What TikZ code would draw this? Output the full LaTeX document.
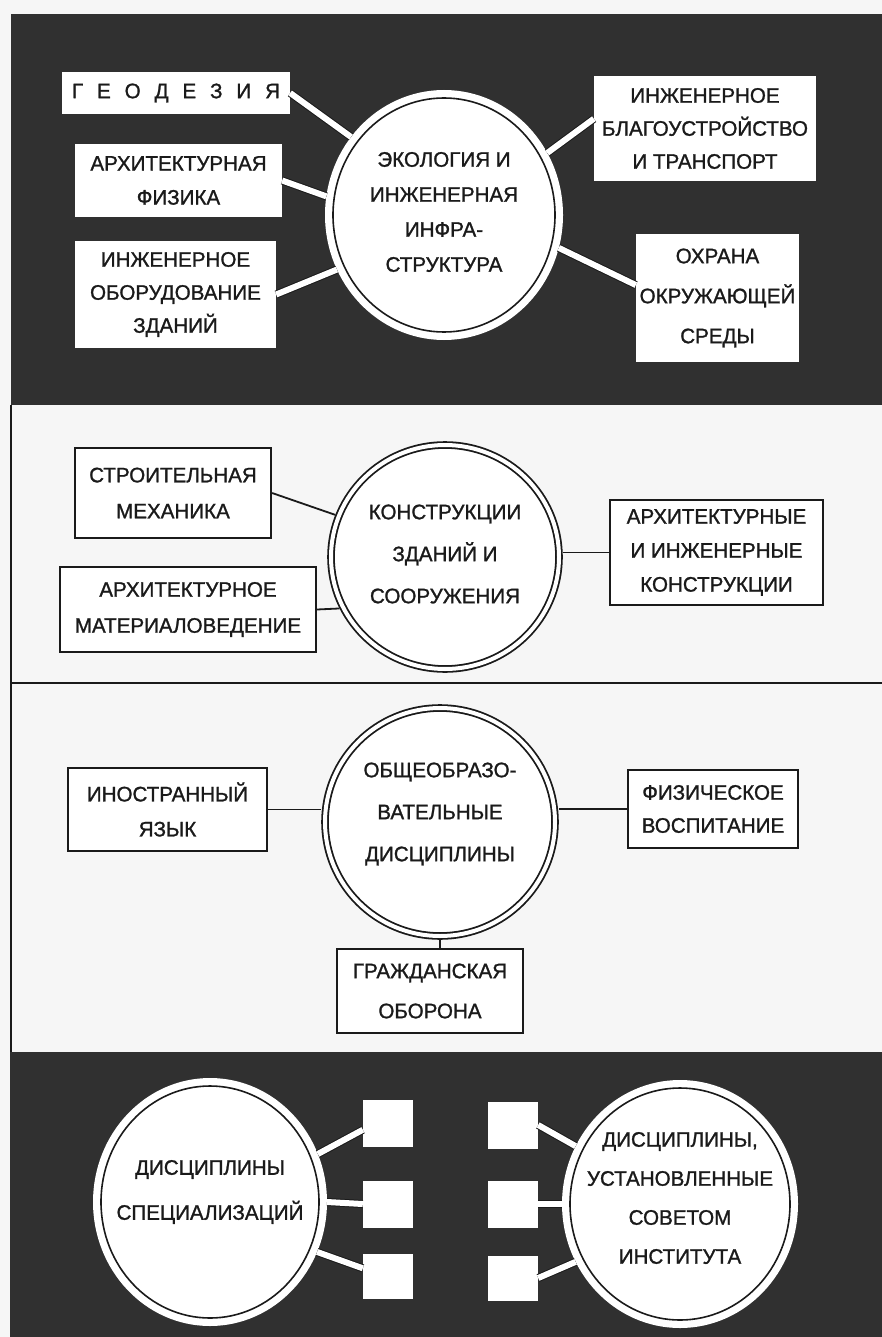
\documentclass[tikz,border=0pt]{standalone}
\usepackage{fontspec}
\setmainfont{Liberation Sans}[FakeStretch=0.98,FakeBold=1.2]
\usetikzlibrary{calc,shapes.geometric}
\definecolor{panel}{HTML}{303030}
\definecolor{ink}{HTML}{1A1A1A}
\definecolor{paper}{HTML}{F6F6F6}
\begin{document}
\begin{tikzpicture}[x=1pt,y=-1pt,
  fs/.style={font=\fontsize{21}{#1}\selectfont, text=ink, align=center, inner sep=0pt},
  fs/.default=34,
  wbox/.style={rectangle, fill=white, inner sep=0pt},
  obox/.style={rectangle, fill=white, draw=ink, line width=2.2pt, inner sep=0pt},
  wring/.style={ellipse, fill=white, draw=ink, line width=1.6pt, inner sep=0pt,
                preaction={draw=white, line width=16pt}, outer sep=8pt},
  dring/.style={ellipse, fill=white, draw=ink, line width=1.8pt, double=white,
                double distance=4pt, inner sep=0pt, outer sep=3.8pt},
  bar/.style={draw=ink, line width=1pt, double=white, double distance=6pt},
  link/.style={draw=ink, line width=1.8pt}
]
\useasboundingbox (0,0) rectangle (882,1337);
\fill[paper] (0,0) rectangle (882,1337);
% panels
\fill[panel] (11,14) rectangle (882,405);
\fill[panel] (10,1052) rectangle (882,1337);
\draw[ink, line width=2.5pt] (11,405) -- (11,1052);
\draw[ink, line width=2.5pt] (11,683) -- (882,683);

% ---------- panel 1 ----------
\node[wbox, fs, minimum width=228pt, minimum height=42pt] (geo) at (176,93)
  {\makebox[208pt]{Г\hfill Е\hfill О\hfill Д\hfill Е\hfill З\hfill И\hfill Я}};
\node[wbox, fs=34, minimum width=207pt, minimum height=73pt] (fiz) at (178.5,180.5)
  {АРХИТЕКТУРНАЯ\\ФИЗИКА};
\node[wbox, fs=33, minimum width=201pt, minimum height=107pt] (obor) at (175.5,294.5)
  {ИНЖЕНЕРНОЕ\\ОБОРУДОВАНИЕ\\ЗДАНИЙ};
\node[wbox, fs=33, minimum width=222pt, minimum height=105pt] (blag) at (705,128.5)
  {ИНЖЕНЕРНОЕ\\БЛАГОУСТРОЙСТВО\\И ТРАНСПОРТ};
\node[wbox, fs=40, minimum width=163pt, minimum height=128pt] (ohr) at (717.5,298)
  {ОХРАНА\\ОКРУЖАЮЩЕЙ\\СРЕДЫ};
\node[wring, minimum width=222pt, minimum height=234pt] (c1) at (444,215) {};
\node[fs=35] (c1t) at ([yshift=3pt]c1.center)
  {ЭКОЛОГИЯ И\\ИНЖЕНЕРНАЯ\\ИНФРА-\\СТРУКТУРА};
\draw[bar] (geo.east) -- (c1.140);
\draw[bar] (fiz.east) -- (c1.171);
\draw[bar] (obor.east) -- (c1.207);
\draw[bar] (c1.31) -- (blag.175);
\draw[bar] (c1.344) -- (ohr.171);

% ---------- panel 2 ----------
\node[obox, fs=36, minimum width=196pt, minimum height=90pt] (mech) at (173,493)
  {СТРОИТЕЛЬНАЯ\\МЕХАНИКА};
\node[obox, fs=36, minimum width=256pt, minimum height=85pt] (mat) at (188,609.5)
  {АРХИТЕКТУРНОЕ\\МАТЕРИАЛОВЕДЕНИЕ};
\node[obox, fs=34, minimum width=213pt, minimum height=105pt] (kon) at (716.5,552.5)
  {АРХИТЕКТУРНЫЕ\\И ИНЖЕНЕРНЫЕ\\КОНСТРУКЦИИ};
\node[dring, minimum width=228pt, minimum height=224pt] (c2) at (445,557) {};
\node[fs=42] (c2t) at ([yshift=3pt]c2.center)
  {КОНСТРУКЦИИ\\ЗДАНИЙ И\\СООРУЖЕНИЯ};
\draw[link] (mech.east) -- (c2.159);
\draw[link] (mat.east) -- (c2.206);
\draw[link] (kon.west) -- (kon.west -| c2.east);

% ---------- panel 3 ----------
\node[obox, fs=35, minimum width=199pt, minimum height=83pt] (ino) at (167.5,809.5)
  {ИНОСТРАННЫЙ\\ЯЗЫК};
\node[obox, fs=33, minimum width=170pt, minimum height=78pt] (phys) at (713,809)
  {ФИЗИЧЕСКОЕ\\ВОСПИТАНИЕ};
\node[obox, fs=40, minimum width=186pt, minimum height=84pt] (grazh) at (430,991)
  {ГРАЖДАНСКАЯ\\ОБОРОНА};
\node[dring, minimum width=230pt, minimum height=228pt] (c3) at (440,822) {};
\node[fs=42] (c3t) at ([yshift=8pt]c3.center)
  {ОБЩЕОБРАЗО-\\ВАТЕЛЬНЫЕ\\ДИСЦИПЛИНЫ};
\draw[link] (ino.east) -- (ino.east -| c3.west);
\draw[link] (phys.west) -- (phys.west -| c3.east);
\draw[link] (c3.south) -- (c3.south |- grazh.north);

% ---------- panel 4 ----------
\node[wring, minimum width=218pt, minimum height=232pt] (c4) at (210,1202) {};
\node[fs=45] (c4t) at ([yshift=10pt]c4.center)
  {ДИСЦИПЛИНЫ\\СПЕЦИАЛИЗАЦИЙ};
\node[wring, minimum width=220pt, minimum height=232pt] (c5) at (680,1204) {};
\node[fs=39] (c5t) at ([yshift=6pt]c5.center)
  {ДИСЦИПЛИНЫ,\\УСТАНОВЛЕННЫЕ\\СОВЕТОМ\\ИНСТИТУТА};
\node[wbox, minimum width=50pt, minimum height=47pt] (s1) at (388,1123.5) {};
\node[wbox, minimum width=50pt, minimum height=47pt] (s2) at (388,1204) {};
\node[wbox, minimum width=50pt, minimum height=45pt] (s3) at (388,1276) {};
\node[wbox, minimum width=50pt, minimum height=47pt] (s4) at (513,1125) {};
\node[wbox, minimum width=50pt, minimum height=47pt] (s5) at (513,1204) {};
\node[wbox, minimum width=50pt, minimum height=45pt] (s6) at (513,1278) {};
\draw[bar] (c4.24) -- (s1.194);
\draw[bar] (c4.east) -- (s2.west);
\draw[bar] (c4.335) -- (s3.163);
\draw[bar] (s4.east) -- (c5.151);
\draw[bar] (s5.east) -- (c5.west);
\draw[bar] (s6.east) -- (c5.209);
\end{tikzpicture}
\end{document}
